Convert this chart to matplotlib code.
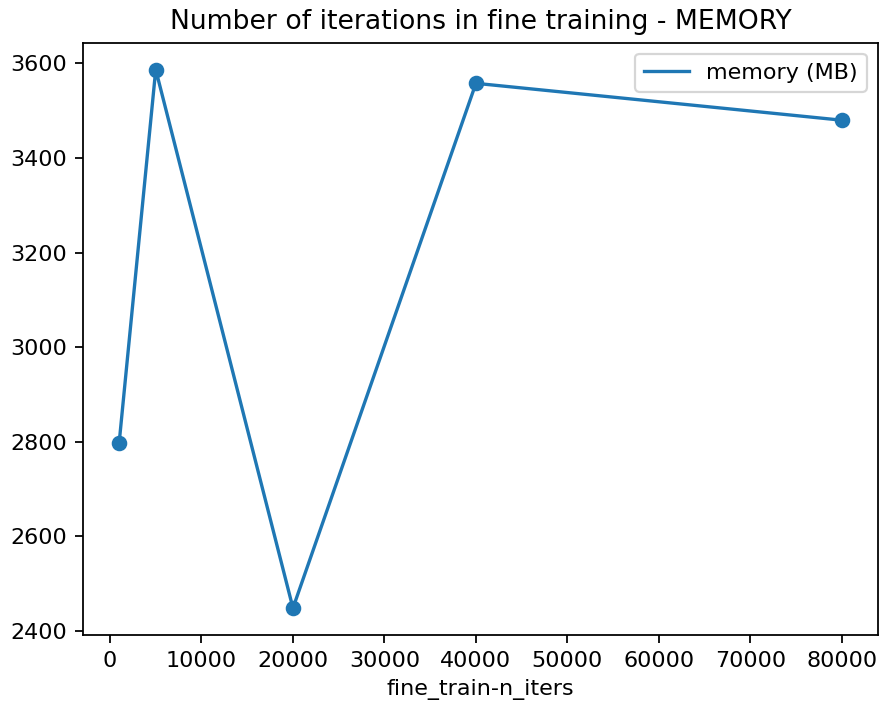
import matplotlib
matplotlib.use('Agg')
import matplotlib.pyplot as plt

n_iters = [1000, 5000, 20000, 40000, 80000]
memory_mb = [2797, 3587, 2448, 3558, 3480]

dpi = 160
fig = plt.figure(figsize=(881 / dpi, 707 / dpi), dpi=dpi)
ax = fig.add_axes([83 / 881, (707 - 635) / 707, (878 - 83) / 881, (635 - 42.7) / 707])

ax.plot(n_iters, memory_mb, label='memory (MB)')
ax.scatter(n_iters, memory_mb)

ax.set_title('Number of iterations in fine training - MEMORY')
ax.set_xlabel('fine_train-n_iters')
ax.legend(loc='upper right')

fig.savefig('out.png', dpi=dpi)
